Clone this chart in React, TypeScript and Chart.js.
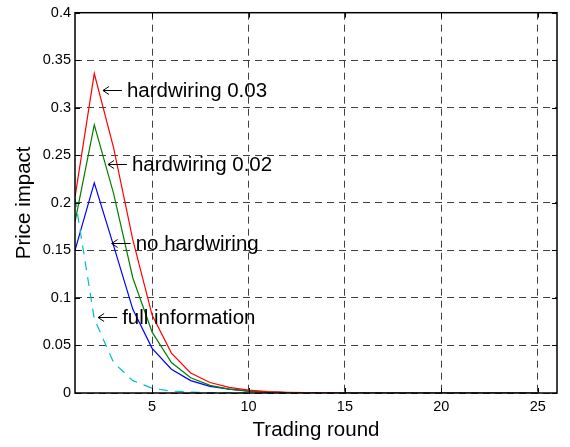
import React, { useEffect, useRef } from "react";
import { Chart, registerables } from "chart.js";

Chart.register(...registerables);

const rounds = Array.from({ length: 25 }, (_, i) => i + 1);
const hardwiring003 = [0.206, 0.336, 0.258, 0.161, 0.082, 0.042, 0.021, 0.011, 0.006, 0.003, 0.0015, 0.0008, 0.0004, 0.0002, 0.0001, 0, 0, 0, 0, 0, 0, 0, 0, 0, 0];
const hardwiring002 = [0.18, 0.282, 0.21, 0.121, 0.064, 0.032, 0.016, 0.008, 0.004, 0.002, 0.001, 0.0005, 0.0002, 0.0001, 0, 0, 0, 0, 0, 0, 0, 0, 0, 0, 0];
const noHardwiring = [0.15, 0.221, 0.155, 0.088, 0.047, 0.025, 0.013, 0.007, 0.004, 0.002, 0.001, 0.0005, 0.0002, 0.0001, 0, 0, 0, 0, 0, 0, 0, 0, 0, 0, 0];
const fullInformation = [0.205, 0.078, 0.032, 0.013, 0.005, 0.002, 0.001, 0.0004, 0.0002, 0.0001, 0, 0, 0, 0, 0, 0, 0, 0, 0, 0, 0, 0, 0, 0, 0];

const xTicks = [5, 10, 15, 20, 25];
const yTicks = [0, 0.05, 0.1, 0.15, 0.2, 0.25, 0.3, 0.35, 0.4];

const annotations = [
  { text: "hardwiring 0.03", x: 2.45, y: 0.319 },
  { text: "hardwiring 0.02", x: 2.71, y: 0.2405 },
  { text: "no hardwiring", x: 2.9, y: 0.158 },
  { text: "full information", x: 2.2, y: 0.08 },
];

const FONT = "Arial, 'Liberation Sans', Helvetica, sans-serif";

const pts = (arr: number[]) => arr.map((v, i) => ({ x: rounds[i], y: v }));

const framePlugin = {
  id: "frame",
  afterDatasetsDraw(chart: any) {
    const { ctx, chartArea: a, scales } = chart;
    ctx.save();
    ctx.fillStyle = "#000";
    ctx.strokeStyle = "#000";
    ctx.lineWidth = 1;
    ctx.font = `20.5px ${FONT}`;
    ctx.textBaseline = "middle";
    ctx.textAlign = "left";
    for (const an of annotations) {
      const px = scales.x.getPixelForValue(an.x);
      const py = Math.round(scales.y.getPixelForValue(an.y)) + 0.5;
      ctx.beginPath();
      ctx.moveTo(px, py);
      ctx.lineTo(px + 19, py);
      ctx.moveTo(px, py);
      ctx.lineTo(px + 6, py - 4);
      ctx.moveTo(px, py);
      ctx.lineTo(px + 6, py + 4);
      ctx.stroke();
      ctx.fillText(an.text, px + 24, py + 1);
    }
    ctx.lineWidth = 1.5;
    ctx.strokeRect(a.left, a.top, a.right - a.left, a.bottom - a.top);
    ctx.lineWidth = 1;
    for (const t of xTicks) {
      const px = Math.round(scales.x.getPixelForValue(t)) + 0.5;
      ctx.beginPath();
      ctx.moveTo(px, a.bottom);
      ctx.lineTo(px, a.bottom - 5);
      ctx.moveTo(px, a.top);
      ctx.lineTo(px, a.top + 5);
      ctx.stroke();
    }
    for (const t of yTicks) {
      const py = Math.round(scales.y.getPixelForValue(t)) + 0.5;
      ctx.beginPath();
      ctx.moveTo(a.left, py);
      ctx.lineTo(a.left + 5, py);
      ctx.moveTo(a.right, py);
      ctx.lineTo(a.right - 5, py);
      ctx.stroke();
    }
    ctx.restore();
  },
};

export default function App() {
  const ref = useRef<HTMLCanvasElement>(null);
  useEffect(() => {
    if (!ref.current) return;
    const chart = new Chart(ref.current, {
      type: "line",
      data: {
        datasets: [
          { label: "full information", data: pts(fullInformation), borderColor: "#00bfbf", borderDash: [9, 7], borderWidth: 1.2, pointRadius: 0, order: 0 },
          { label: "hardwiring 0.03", data: pts(hardwiring003), borderColor: "#ff0000", borderWidth: 1.2, pointRadius: 0, order: 1 },
          { label: "hardwiring 0.02", data: pts(hardwiring002), borderColor: "#008000", borderWidth: 1.2, pointRadius: 0, order: 2 },
          { label: "no hardwiring", data: pts(noHardwiring), borderColor: "#0000ff", borderWidth: 1.2, pointRadius: 0, order: 3 },
        ],
      },
      options: {
        responsive: false,
        animation: false,
        layout: { padding: { left: 0, right: 13, top: 12, bottom: 0 } },
        plugins: { legend: { display: false }, tooltip: { enabled: false } },
        scales: {
          x: {
            type: "linear",
            min: 1,
            max: 26,
            afterBuildTicks: (s: any) => {
              s.ticks = xTicks.map((v) => ({ value: v }));
            },
            afterFit: (s: any) => {
              s.height = 54;
            },
            grid: { color: "#404040", lineWidth: 1, drawTicks: false },
            border: { display: false, dash: [7, 5] },
            ticks: { color: "#000", font: { family: FONT, size: 14.5 }, padding: 5, maxRotation: 0 },
            title: { display: true, text: "Trading round", color: "#000", font: { family: FONT, size: 20.5 }, padding: { top: 0 } },
          },
          y: {
            min: 0,
            max: 0.4,
            afterBuildTicks: (s: any) => {
              s.ticks = yTicks.map((v) => ({ value: v }));
            },
            afterFit: (s: any) => {
              s.width = 75;
            },
            grid: { color: "#404040", lineWidth: 1, drawTicks: false },
            border: { display: false, dash: [7, 5] },
            ticks: { color: "#000", font: { family: FONT, size: 14.5 }, padding: 4, callback: (v: any) => String(Number(v)) },
            title: { display: true, text: "Price impact", color: "#000", font: { family: FONT, size: 20.5 }, padding: { top: 12, bottom: 0 } },
          },
        },
      },
      plugins: [framePlugin],
    });
    return () => chart.destroy();
  }, []);
  return (
    <div style={{ position: "fixed", left: 0, top: 0, width: 570, height: 447, background: "#fff" }}>
      <canvas ref={ref} width={570} height={447} />
    </div>
  );
}
